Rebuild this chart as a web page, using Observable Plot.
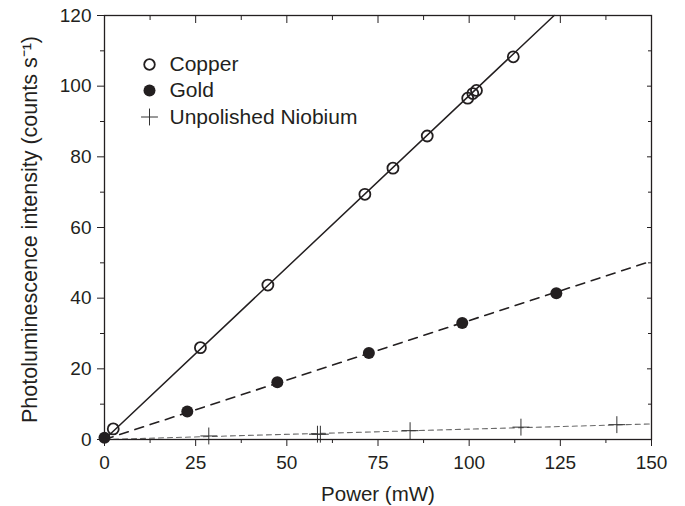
<!DOCTYPE html>
<html><head><meta charset="utf-8">
<script src="https://cdn.jsdelivr.net/npm/d3@7"></script>
<script src="https://cdn.jsdelivr.net/npm/@observablehq/plot@0.6"></script>
<style>
body{margin:0;background:#fff}
#chart svg{font-family:"Liberation Sans",Arial,sans-serif;color:#231f20;background:#fff}
</style>
</head><body><div id="chart"></div>
<script>
const copperPower     = [2.4, 26.3, 44.8, 71.4, 79.1, 88.5, 99.6, 101.0, 102.0, 112.1];
const copperIntensity = [3.0, 26.0, 43.7, 69.4, 76.8, 85.9, 96.6, 97.9, 98.8, 108.3];
const goldPower       = [0, 22.7, 47.4, 72.5, 98.1, 123.9];
const goldIntensity   = [0.5, 7.9, 16.2, 24.5, 33.0, 41.4];
const niobiumPower     = [28.6, 58.4, 59.2, 83.8, 114.2, 140.5];
const niobiumIntensity = [1.0, 1.5, 1.5, 2.5, 3.5, 4.2];
// Fit lines (endpoints)
const copperFitPower = [0, 123.3],  copperFitIntensity = [0, 120];
const goldFitPower = [0, 150],      goldFitIntensity = [0, 50.5];
const niobiumFitPower = [0, 150],   niobiumFitIntensity = [0, 4.4];
// Ticks and labels
const xTicks = [0, 25, 50, 75, 100, 125, 150];
const xMinorTicks = [12.5, 37.5, 62.5, 87.5, 112.5, 137.5];
const yTicks = [0, 20, 40, 60, 80, 100, 120];
const yMinorTicks = [10, 30, 50, 70, 90, 110];
const xLabel = ["Power (mW)"];
const yLabel = ["Photoluminescence intensity (counts s\u207B\u00B9)"];
const legendLabels = ["Copper", "Gold", "Unpolished Niobium"];

const zip = (xs, ys) => xs.map((x, i) => ({x, y: ys[i]}));
const copper = zip(copperPower, copperIntensity);
const gold = zip(goldPower, goldIntensity);
const niobium = zip(niobiumPower, niobiumIntensity);
const copperFit = zip(copperFitPower, copperFitIntensity);
const goldFit = zip(goldFitPower, goldFitIntensity);
const niobiumFit = zip(niobiumFitPower, niobiumFitIntensity);

const ink = "#231f20";
const fs = 19;
const legendRowDy = [49, 75, 101.5];
const legendText = (i) => Plot.text([legendLabels[i]], {text: d => d, frameAnchor: "top-left", dx: 65, dy: legendRowDy[i], textAnchor: "start", lineAnchor: "middle", fontSize: 21, fill: ink});

const chart = Plot.plot({
  width: 685, height: 506,
  marginTop: 15, marginRight: 34, marginBottom: 67, marginLeft: 104,
  x: {domain: [0, 150]},
  y: {domain: [0, 120]},
  marks: [
    Plot.line(niobiumFit, {x: "x", y: "y", stroke: "#6a6a6a", strokeWidth: 1.1, strokeDasharray: "5,4"}),
    Plot.line(goldFit, {x: "x", y: "y", stroke: ink, strokeWidth: 1.6, strokeDasharray: "9,7"}),
    Plot.line(copperFit, {x: "x", y: "y", stroke: ink, strokeWidth: 1.5}),
    Plot.dot(niobium, {x: "x", y: "y", symbol: "plus", r: 5.5, stroke: "#333", strokeWidth: 1}),
    Plot.dot(gold, {x: "x", y: "y", r: 6, fill: ink, stroke: "none"}),
    Plot.dot(copper, {x: "x", y: "y", r: 5.5, fill: "none", stroke: ink, strokeWidth: 1.8}),
    Plot.frame({stroke: ink, strokeWidth: 1.3}),
    Plot.axisX(xTicks, {anchor: "bottom", tickSize: 7, tickPadding: 9, fontSize: fs, label: null}),
    Plot.axisX(xMinorTicks, {anchor: "bottom", tickSize: 4, text: null, label: null}),
    Plot.axisX(xTicks, {anchor: "top", tickSize: -7, text: null, label: null}),
    Plot.axisX(xMinorTicks, {anchor: "top", tickSize: -4, text: null, label: null}),
    Plot.axisY(yTicks, {anchor: "left", tickSize: 7, tickPadding: 6, fontSize: fs, label: null}),
    Plot.axisY(yMinorTicks, {anchor: "left", tickSize: 4, text: null, label: null}),
    Plot.axisY(yTicks, {anchor: "right", tickSize: -5, text: null, label: null}),
    Plot.axisY(yMinorTicks, {anchor: "right", tickSize: -4, text: null, label: null}),
    Plot.text(xLabel, {text: d => d, frameAnchor: "bottom", dy: 55, lineAnchor: "middle", textAnchor: "middle", fontSize: 20.5, fill: ink}),
    Plot.text(yLabel, {text: d => d, frameAnchor: "left", rotate: -90, dx: -74, dy: 2, textAnchor: "middle", lineAnchor: "middle", fontSize: 21.5, fill: ink}),
    // legend
    Plot.dot([legendLabels[0]], {frameAnchor: "top-left", dx: 45, dy: legendRowDy[0], r: 5.3, fill: "none", stroke: ink, strokeWidth: 1.8}),
    Plot.dot([legendLabels[1]], {frameAnchor: "top-left", dx: 45, dy: legendRowDy[1], r: 6, fill: ink, stroke: "none"}),
    Plot.dot([legendLabels[2]], {frameAnchor: "top-left", dx: 45, dy: legendRowDy[2], symbol: "plus", r: 5.5, stroke: "#333", strokeWidth: 1}),
    legendText(0), legendText(1), legendText(2)
  ]
});
document.getElementById("chart").appendChild(chart);
</script>
</body></html>
